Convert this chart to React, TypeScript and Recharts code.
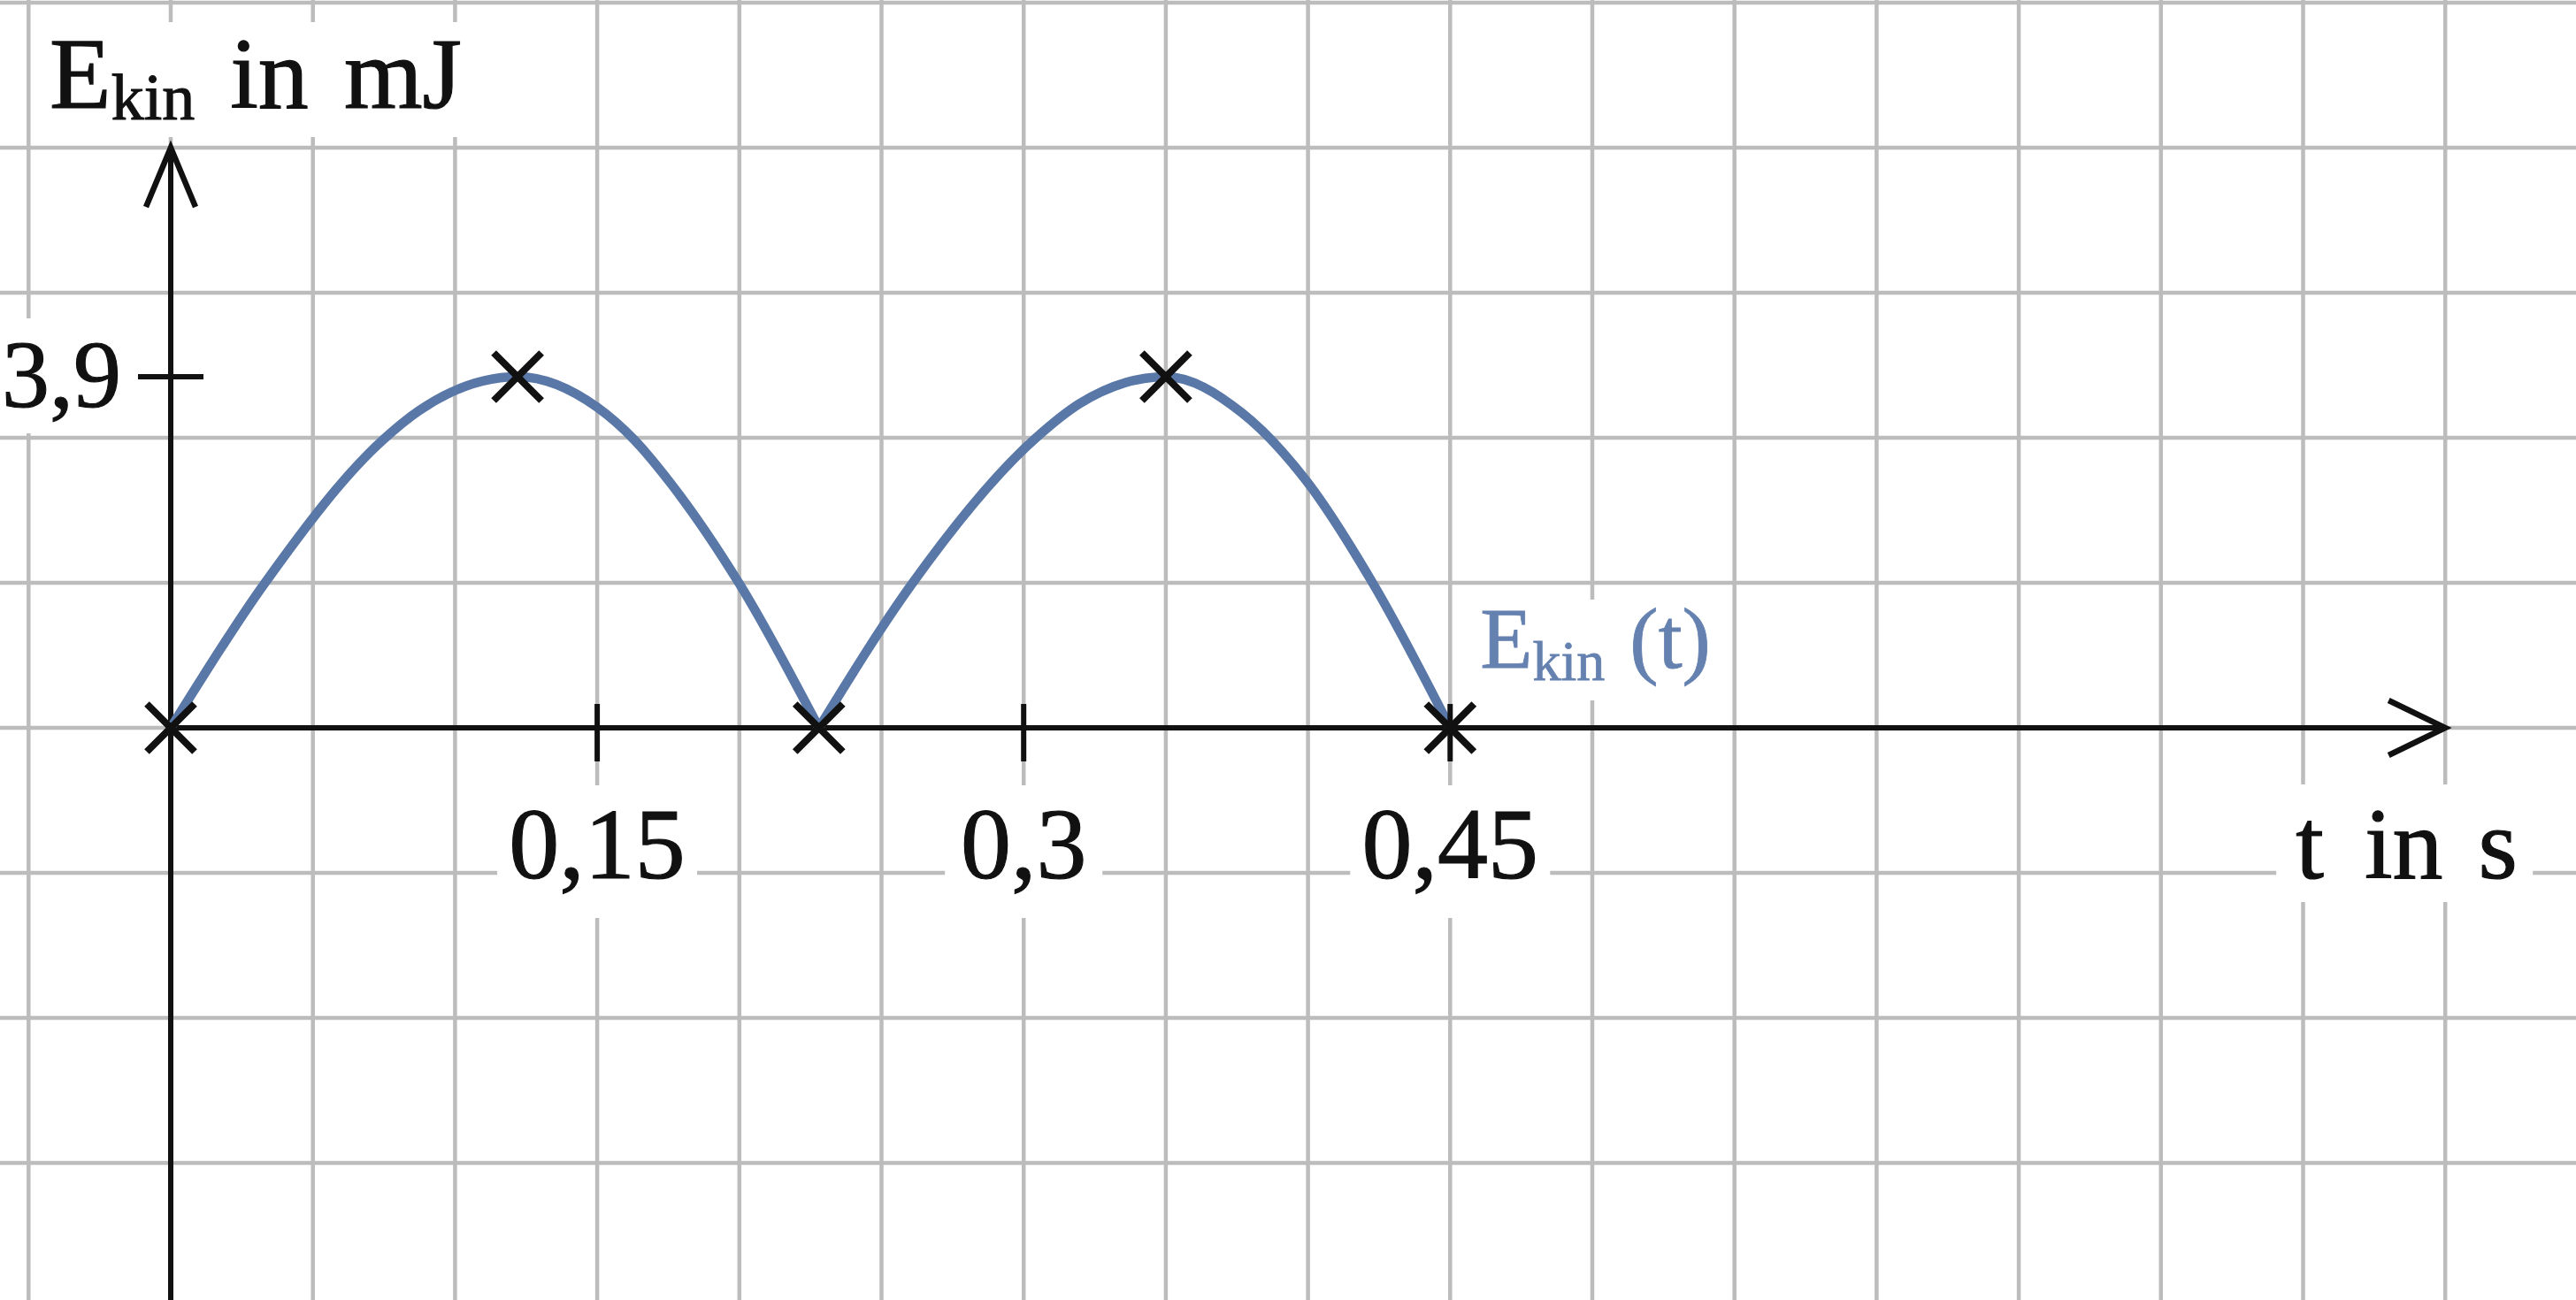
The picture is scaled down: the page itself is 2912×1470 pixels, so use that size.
import React from "react";
import {
  ComposedChart,
  XAxis,
  YAxis,
  CartesianGrid,
  Line,
  Scatter,
  ReferenceLine,
  ReferenceDot,
} from "recharts";

// ---------- data ----------
const hump1 = [
  { t: 0, e: 0 },
  { t: 0.0327, e: 1.59 },
  { t: 0.0747, e: 3.2 },
  { t: 0.0872, e: 3.52 },
  { t: 0.122, e: 3.9 },
  { t: 0.15, e: 3.56 },
  { t: 0.163, e: 3.2 },
  { t: 0.176, e: 2.71 },
  { t: 0.2, e: 1.6 },
  { t: 0.228, e: 0 },
];

const hump2 = [
  { t: 0.228, e: 0 },
  { t: 0.2605, e: 1.59 },
  { t: 0.3036, e: 3.2 },
  { t: 0.3196, e: 3.6 },
  { t: 0.35, e: 3.9 },
  { t: 0.3767, e: 3.5 },
  { t: 0.3995, e: 2.74 },
  { t: 0.4231, e: 1.59 },
  { t: 0.45, e: 0 },
];

const markers = [
  { t: 0, e: 0 },
  { t: 0.122, e: 3.9 },
  { t: 0.228, e: 0 },
  { t: 0.35, e: 3.9 },
  { t: 0.45, e: 0 },
];

const xTicks = [0.15, 0.3, 0.45];
const xTickLabels = ["0,15", "0,3", "0,45"];
const yTicks = [3.9];
const yTickLabels = ["3,9"];

// paper grid (0.05 s per cell horizontally, 1.611 mJ per cell vertically)
const gridX = [
  -0.05, 0, 0.05, 0.1, 0.15, 0.2, 0.25, 0.3, 0.35, 0.4, 0.45, 0.5, 0.55, 0.6,
  0.65, 0.7, 0.75, 0.8,
];
const gridY = [-4.833, -3.222, -1.611, 0, 1.611, 3.222, 4.833, 6.444, 8.055];

const xAxisEnd = 0.8;
const yAxisTop = 6.444;

const xTitle = "t in s";
const yTitleMain = "E";
const yTitleSub = "kin";
const yTitleUnit = ["in", "mJ"];
const curveLabel = { main: "E", sub: "kin", arg: "(t)" };

// ---------- chart config ----------
const W = 2912;
const H = 1470;
const xDomain = [-0.06005, 0.84599];
const yDomain = [-6.3556, 8.0845];

const FONT = "'Liberation Serif', 'DejaVu Serif', serif";
const INK = "#111111";
const BLUE = "#5a78a7";
const BLUE_TEXT = "#6581b0";
const GRID = "#bcbcbc";
const TEXT_STROKE = 1.2;

const CrossShape = (p: any) => {
  const { cx, cy } = p;
  const s = 27;
  return (
    <g stroke={INK} strokeWidth={8} strokeLinecap="butt">
      <line x1={cx - s} y1={cy - s} x2={cx + s} y2={cy + s} />
      <line x1={cx - s} y1={cy + s} x2={cx + s} y2={cy - s} />
    </g>
  );
};

const ArrowRight = (p: any) => {
  const { cx, cy } = p;
  return (
    <path
      d={`M ${cx - 64} ${cy - 31} L ${cx} ${cy} L ${cx - 64} ${cy + 31}`}
      fill="none"
      stroke={INK}
      strokeWidth={6.5}
    />
  );
};

const ArrowUp = (p: any) => {
  const { cx, cy } = p;
  return (
    <path
      d={`M ${cx - 28} ${cy + 67} L ${cx} ${cy} L ${cx + 28} ${cy + 67}`}
      fill="none"
      stroke={INK}
      strokeWidth={6.5}
    />
  );
};

const XTickMark = (p: any) => {
  const { cx, cy } = p;
  return <line x1={cx} y1={cy - 27} x2={cx} y2={cy + 38} stroke={INK} strokeWidth={6} />;
};

const YTickMark = (p: any) => {
  const { cx, cy } = p;
  return <line x1={cx - 37} y1={cy} x2={cx + 37} y2={cy} stroke={INK} strokeWidth={6} />;
};

const makeXTickLabel = (label: string) => (p: any) => {
  const { cx, cy } = p;
  const half = 17 + 24 * label.length;
  return (
    <g>
      <rect x={cx - half} y={cy + 65} width={half * 2} height={150} fill="#ffffff" />
      <text
        x={cx}
        y={cy + 170}
        textAnchor="middle"
        fontFamily={FONT}
        fontSize={114}
        fill={INK}
        stroke={INK}
        strokeWidth={TEXT_STROKE}
      >
        {label}
      </text>
    </g>
  );
};

const makeYTickLabel = (label: string) => (p: any) => {
  const { cx, cy } = p;
  return (
    <g>
      <rect x={cx - 193} y={cy - 66} width={150} height={130} fill="#ffffff" />
      <text
        x={cx - 56}
        y={cy + 34}
        textAnchor="end"
        fontFamily={FONT}
        fontSize={108}
        fill={INK}
        stroke={INK}
        strokeWidth={TEXT_STROKE}
      >
        {label}
      </text>
    </g>
  );
};

const YTitle = (p: any) => {
  const { cx, cy } = p;
  return (
    <g>
      <rect x={cx - 153} y={cy - 142} width={505} height={130} fill="#ffffff" />
      <text
        x={cx - 137}
        y={cy - 45}
        fontFamily={FONT}
        fontSize={114}
        fill={INK}
        stroke={INK}
        strokeWidth={TEXT_STROKE}
      >
        <tspan>{yTitleMain}</tspan>
        <tspan fontSize={74} dy={13}>
          {yTitleSub}
        </tspan>
        <tspan dy={-13} dx={40}>
          {yTitleUnit[0]}
        </tspan>
        <tspan dx={40}>{yTitleUnit[1]}</tspan>
      </text>
    </g>
  );
};

const XTitle = (p: any) => {
  const { cx, cy } = p;
  const parts = xTitle.split(" ");
  return (
    <g>
      <rect x={cx - 191} y={cy + 64} width={290} height={133} fill="#ffffff" />
      <text
        x={cx - 169}
        y={cy + 170}
        fontFamily={FONT}
        fontSize={114}
        fill={INK}
        stroke={INK}
        strokeWidth={TEXT_STROKE}
      >
        <tspan>{parts[0]}</tspan>
        <tspan dx={46}>{parts[1]}</tspan>
        <tspan dx={40}>{parts[2]}</tspan>
      </text>
    </g>
  );
};

const CurveTitle = (p: any) => {
  const { cx, cy } = p;
  return (
    <g>
      <rect x={cx + 16} y={cy - 145} width={295} height={114} fill="#ffffff" />
      <text
        x={cx + 34}
        y={cy - 68}
        fontFamily={FONT}
        fontSize={97}
        fill={BLUE_TEXT}
        stroke={BLUE_TEXT}
        strokeWidth={0.8}
      >
        <tspan>{curveLabel.main}</tspan>
        <tspan fontSize={64} dy={14}>
          {curveLabel.sub}
        </tspan>
        <tspan dy={-14} dx={28}>
          {curveLabel.arg}
        </tspan>
      </text>
    </g>
  );
};

export default function App() {
  return (
    <div style={{ position: "absolute", left: 0, top: 0, width: W, height: H, background: "#fff" }}>
      <ComposedChart width={W} height={H} margin={{ top: 0, right: 0, bottom: 0, left: 0 }}>
        <XAxis
          dataKey="t"
          type="number"
          domain={xDomain}
          ticks={gridX}
          interval={0}
          allowDataOverflow
          hide
        />
        <YAxis
          dataKey="e"
          type="number"
          domain={yDomain}
          ticks={gridY}
          interval={0}
          allowDataOverflow
          hide
        />
        <CartesianGrid stroke={GRID} strokeWidth={4.5} syncWithTicks />

        {/* labels with white backgrounds */}
        <ReferenceDot x={0} y={yAxisTop} shape={YTitle} ifOverflow="visible" />
        {xTicks.map((v, i) => (
          <ReferenceDot
            key={"xl" + v}
            x={v}
            y={0}
            shape={makeXTickLabel(xTickLabels[i])}
            ifOverflow="visible"
          />
        ))}
        {yTicks.map((v, i) => (
          <ReferenceDot
            key={"yl" + v}
            x={0}
            y={v}
            shape={makeYTickLabel(yTickLabels[i])}
            ifOverflow="visible"
          />
        ))}
        <ReferenceDot x={xAxisEnd} y={0} shape={XTitle} ifOverflow="visible" />
        <ReferenceDot x={0.45} y={0} shape={CurveTitle} ifOverflow="visible" />

        {/* axes */}
        <ReferenceLine
          segment={[
            { x: 0, y: yDomain[0] },
            { x: 0, y: yAxisTop },
          ]}
          stroke={INK}
          strokeWidth={6}
          ifOverflow="visible"
        />
        <ReferenceLine
          segment={[
            { x: 0, y: 0 },
            { x: xAxisEnd, y: 0 },
          ]}
          stroke={INK}
          strokeWidth={6}
          ifOverflow="visible"
        />
        <ReferenceDot x={xAxisEnd} y={0} shape={ArrowRight} ifOverflow="visible" />
        <ReferenceDot x={0} y={yAxisTop} shape={ArrowUp} ifOverflow="visible" />
        {xTicks.map((v) => (
          <ReferenceDot key={"xt" + v} x={v} y={0} shape={XTickMark} ifOverflow="visible" />
        ))}
        {yTicks.map((v) => (
          <ReferenceDot key={"yt" + v} x={0} y={v} shape={YTickMark} ifOverflow="visible" />
        ))}

        {/* curve */}
        <Line
          data={hump1}
          dataKey="e"
          type="monotone"
          stroke={BLUE}
          strokeWidth={10.5}
          dot={false}
          activeDot={false}
          isAnimationActive={false}
        />
        <Line
          data={hump2}
          dataKey="e"
          type="monotone"
          stroke={BLUE}
          strokeWidth={10.5}
          dot={false}
          activeDot={false}
          isAnimationActive={false}
        />
        <Scatter data={markers} dataKey="e" shape={CrossShape} isAnimationActive={false} />
      </ComposedChart>
    </div>
  );
}
